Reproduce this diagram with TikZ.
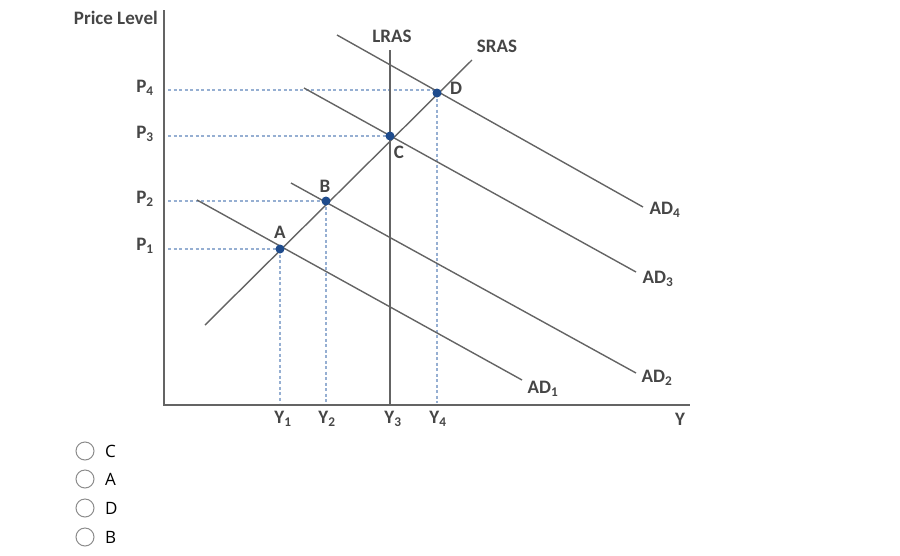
\documentclass[tikz,border=0pt]{standalone}
\usepackage{fontspec}
\setmainfont{Carlito}
\newfontfamily\optfont{Open Sans}
\definecolor{linegray}{RGB}{100,100,100}
\definecolor{guidecol}{RGB}{150,175,210}
\definecolor{dotcol}{RGB}{30,75,140}
\definecolor{textcol}{RGB}{70,70,70}
\begin{document}
\begin{tikzpicture}[x=1pt,y=-1pt,
  curve/.style={draw=linegray,line width=1.4pt},
  axisline/.style={draw=linegray,line width=1.8pt},
  guide/.style={draw=guidecol,line width=1.3pt,dash pattern=on 3pt off 2.5pt},
  dotpt/.style={circle,fill=dotcol,inner sep=0pt,minimum size=9pt},
  lbl/.style={font=\fontsize{19}{19}\selectfont\bfseries,text=textcol,inner sep=1pt},
  radio/.style={circle,draw=black!45,line width=1pt,minimum size=18pt,inner sep=0pt},
  opt/.style={font=\optfont\fontsize{17}{17}\selectfont,anchor=west,inner sep=0pt}]
\useasboundingbox (0,0) rectangle (900,555);
% axes
\coordinate (ytop) at (164,10);
\coordinate (orig) at (164,405);
\coordinate (xend) at (690,405);
\draw[axisline] (ytop) -- (orig) -- (xend);
\node[lbl,anchor=east] (plabel) at (159,18) {Price Level};
\node[lbl] (ylabel) at (680,419) {Y};
% equilibrium points
\coordinate (A) at (280,249);
\coordinate (B) at (326,201);
\coordinate (C) at (390,136);
\coordinate (D) at (437,93);
% guides
\coordinate (p4s) at (168,90);
\coordinate (p3s) at (168,136);
\coordinate (p2s) at (168,201);
\coordinate (p1s) at (168,249);
\draw[guide] (p4s) -- (D |- p4s) -- (D);
\draw[guide] (p3s) -- (C);
\draw[guide] (p2s) -- (B);
\draw[guide] (p1s) -- (A);
\coordinate (y1b) at (280,403);
\coordinate (y2b) at (326,403);
\coordinate (y4b) at (437,403);
\draw[guide] (A) -- (y1b);
\draw[guide] (B) -- (y2b);
\draw[guide] (D) -- (y4b);
% LRAS
\coordinate (lrasT) at (390,50);
\coordinate (lrasB) at (390,405);
\draw[curve] (lrasT) -- (lrasB);
\node[lbl] (lraslbl) at (392,36) {LRAS};
% SRAS
\coordinate (srasB) at (205,325);
\coordinate (srasT) at (472,60);
\draw[curve] (srasB) -- (srasT);
\node[lbl] (sraslbl) at (497,46) {SRAS};
% AD curves
\coordinate (ad1s) at (197,200);
\coordinate (ad1e) at (522,380);
\draw[curve] (ad1s) -- (ad1e);
\node[lbl] (ad1l) at (543,389) {AD\textsubscript{1}};
\coordinate (ad2s) at (291,183);
\coordinate (ad2e) at (636,373);
\draw[curve] (ad2s) -- (ad2e);
\node[lbl] (ad2l) at (657,378) {AD\textsubscript{2}};
\coordinate (ad3s) at (304,88);
\coordinate (ad3e) at (636,272);
\draw[curve] (ad3s) -- (ad3e);
\node[lbl] (ad3l) at (658,279) {AD\textsubscript{3}};
\coordinate (ad4s) at (337,35);
\coordinate (ad4e) at (643,207);
\draw[curve] (ad4s) -- (ad4e);
\node[lbl] (ad4l) at (665,210) {AD\textsubscript{4}};
% dots
\node[dotpt] (dA) at (A) {};
\node[dotpt] (dB) at (B) {};
\node[dotpt] (dC) at (C) {};
\node[dotpt] (dD) at (D) {};
\node[lbl] (la) at (280,232) {A};
\node[lbl] (lb) at (325,186) {B};
\node[lbl] (lc) at (399,152) {C};
\node[lbl] (ld) at (456,88) {D};
% price labels
\node[lbl] (p4) at (145,88) {P\textsubscript{4}};
\node[lbl] (p3) at (145,134) {P\textsubscript{3}};
\node[lbl] (p2) at (145,199) {P\textsubscript{2}};
\node[lbl] (p1) at (145,246) {P\textsubscript{1}};
% quantity labels
\node[lbl] (y1) at (283,419) {Y\textsubscript{1}};
\node[lbl] (y2) at (327,419) {Y\textsubscript{2}};
\node[lbl] (y3) at (393,419) {Y\textsubscript{3}};
\node[lbl] (y4) at (438,419) {Y\textsubscript{4}};
% options
\node[radio] (r1) at (85,451) {};
\node[radio] (r2) at (85,479) {};
\node[radio] (r3) at (85,508) {};
\node[radio] (r4) at (85,537) {};
\node[opt] (o1) at (105,451) {C};
\node[opt] (o2) at (105,479) {A};
\node[opt] (o3) at (105,508) {D};
\node[opt] (o4) at (105,537) {B};
\end{tikzpicture}
\end{document}
